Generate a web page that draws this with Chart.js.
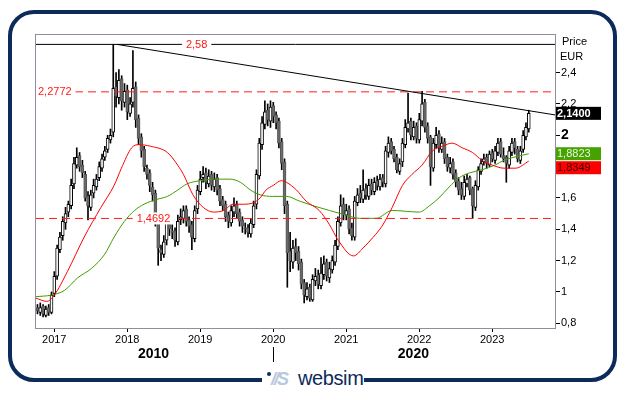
<!DOCTYPE html>
<html>
<head>
<meta charset="utf-8">
<script src="https://cdn.jsdelivr.net/npm/chart.js@4.4.0/dist/chart.umd.min.js"></script>
<style>
  html, body { margin: 0; padding: 0; background: #fff; }
  #wrap { position: relative; width: 629px; height: 395px; overflow: hidden; }
  #frame {
    position: absolute; left: 8px; top: 10px; width: 601px; height: 364px;
    border: 4px solid #0c2b5b; border-radius: 26px;
  }
  #chart { position: absolute; left: 0; top: 0; }
  #logo {
    position: absolute; left: 262px; top: 367px; width: 102px; height: 26px;
    background: #fff; font-family: "Liberation Sans", Arial, sans-serif;
  }
  #logo .dot { position: absolute; left: 5px; top: 5px; width: 4px; height: 4px; border-radius: 2px; background: #0c2b5b; }
  #logo .mark { position: absolute; left: 9px; top: 2px; font-size: 18px; font-weight: bold; font-style: italic; color: #b9c8dc; letter-spacing: -2px; }
  #logo .name { position: absolute; left: 36px; top: 0px; font-size: 20px; color: #0c2b5b; letter-spacing: -0.4px; }
</style>
</head>
<body>
<div id="wrap">
  <div id="frame"></div>
  <canvas id="chart" width="629" height="395"></canvas>
  <div id="logo"><span class="dot"></span><span class="mark">//S</span><span class="name">websim</span></div>
</div>
<script>
// two-week candles, first one early October 2016
const candleStart = 2016.77;
const candleStep = 1 / 26;

const opens = [
  0.90, 0.87, 0.91, 0.85, 0.90, 0.87, 0.99, 1.10, 1.27, 1.36,
  1.44, 1.51, 1.55, 1.69, 1.81, 1.87, 1.81, 1.75, 1.61, 1.54,
  1.63, 1.67, 1.73, 1.79, 1.86, 1.91, 1.97, 2.02, 2.31, 2.24,
  2.36, 2.21, 2.29, 2.14, 2.21, 2.31, 2.11, 1.99, 1.91, 1.79,
  1.76, 1.67, 1.63, 1.46, 1.27, 1.24, 1.33, 1.46, 1.39, 1.39,
  1.32, 1.46, 1.47, 1.53, 1.46, 1.43, 1.34, 1.53, 1.64, 1.73,
  1.76, 1.69, 1.75, 1.67, 1.73, 1.66, 1.59, 1.56, 1.49, 1.44,
  1.51, 1.56, 1.51, 1.46, 1.41, 1.41, 1.37, 1.43, 1.56, 1.74,
  1.94, 2.07, 2.16, 2.09, 2.19, 2.13, 2.09, 1.96, 1.83, 1.56,
  1.26, 1.19, 1.29, 1.26, 1.19, 1.06, 0.97, 1.03, 0.95, 1.07,
  1.11, 1.04, 1.11, 1.19, 1.09, 1.14, 1.19, 1.29, 1.44, 1.56,
  1.49, 1.53, 1.41, 1.35, 1.57, 1.63, 1.59, 1.66, 1.61, 1.69,
  1.64, 1.71, 1.67, 1.73, 1.69, 1.89, 1.96, 1.91, 1.86, 1.77,
  1.83, 1.94, 2.04, 2.09, 1.99, 2.06, 1.97, 2.09, 2.21, 2.06,
  1.99, 1.79, 1.94, 2.01, 1.91, 1.96, 1.86, 1.79, 1.83, 1.76,
  1.71, 1.66, 1.61, 1.69, 1.73, 1.66, 1.54, 1.67, 1.77, 1.83,
  1.86, 1.81, 1.89, 1.84, 1.89, 1.96, 1.87, 1.86, 1.81, 1.89,
  1.96, 1.91, 1.84, 1.91, 1.99, 2.04
];
const highs = [
  0.92, 0.93, 0.92, 0.91, 0.92, 1.00, 1.13, 1.30, 1.38, 1.48,
  1.54, 1.58, 1.72, 1.86, 1.92, 1.89, 1.84, 1.77, 1.64, 1.65,
  1.72, 1.75, 1.83, 1.88, 1.93, 2.00, 2.04, 2.58, 2.40, 2.42,
  2.38, 2.33, 2.32, 2.24, 2.54, 2.34, 2.13, 2.01, 1.93, 1.81,
  1.78, 1.70, 1.65, 1.48, 1.30, 1.36, 1.50, 1.49, 1.43, 1.41,
  1.49, 1.53, 1.55, 1.55, 1.48, 1.45, 1.55, 1.68, 1.77, 1.80,
  1.79, 1.78, 1.77, 1.76, 1.75, 1.68, 1.61, 1.58, 1.51, 1.55,
  1.60, 1.58, 1.53, 1.48, 1.44, 1.43, 1.47, 1.58, 1.78, 1.98,
  2.12, 2.22, 2.20, 2.22, 2.21, 2.15, 2.11, 1.98, 1.85, 1.58,
  1.38, 1.33, 1.34, 1.29, 1.21, 1.08, 1.06, 1.05, 1.11, 1.15,
  1.14, 1.22, 1.23, 1.21, 1.19, 1.23, 1.33, 1.48, 1.62, 1.60,
  1.56, 1.55, 1.44, 1.61, 1.66, 1.68, 1.78, 1.69, 1.72, 1.72,
  1.73, 1.74, 1.75, 1.75, 1.93, 1.99, 1.98, 1.93, 1.88, 1.85,
  1.98, 2.10, 2.27, 2.11, 2.09, 2.08, 2.14, 2.28, 2.23, 2.08,
  2.00, 1.98, 2.05, 2.03, 1.99, 1.98, 1.88, 1.86, 1.85, 1.78,
  1.73, 1.70, 1.74, 1.75, 1.74, 1.67, 1.71, 1.80, 1.85, 1.88,
  1.88, 1.90, 1.91, 1.93, 1.98, 1.98, 1.92, 1.87, 1.93, 1.98,
  1.98, 1.93, 1.93, 2.03, 2.08, 2.16
];
const lows = [
  0.86, 0.85, 0.84, 0.84, 0.85, 0.86, 0.97, 1.08, 1.25, 1.33,
  1.40, 1.48, 1.53, 1.66, 1.79, 1.77, 1.73, 1.58, 1.46, 1.52,
  1.60, 1.65, 1.71, 1.77, 1.84, 1.89, 1.95, 1.99, 2.18, 2.20,
  2.16, 2.18, 2.10, 2.12, 2.18, 2.05, 1.94, 1.86, 1.77, 1.72,
  1.64, 1.58, 1.42, 1.17, 1.20, 1.22, 1.30, 1.36, 1.34, 1.29,
  1.30, 1.43, 1.44, 1.42, 1.38, 1.27, 1.32, 1.50, 1.62, 1.70,
  1.66, 1.67, 1.65, 1.64, 1.62, 1.55, 1.52, 1.45, 1.41, 1.42,
  1.48, 1.47, 1.42, 1.38, 1.37, 1.35, 1.35, 1.41, 1.53, 1.72,
  1.91, 2.04, 2.06, 2.05, 2.08, 2.04, 1.92, 1.78, 1.50, 1.03,
  1.13, 1.15, 1.20, 1.14, 1.02, 0.93, 0.95, 0.94, 0.94, 1.04,
  1.02, 1.02, 1.08, 1.07, 1.06, 1.12, 1.17, 1.27, 1.42, 1.46,
  1.46, 1.37, 1.33, 1.33, 1.55, 1.57, 1.57, 1.59, 1.59, 1.62,
  1.62, 1.65, 1.65, 1.67, 1.67, 1.86, 1.88, 1.83, 1.76, 1.75,
  1.80, 1.92, 2.02, 1.97, 1.97, 1.95, 1.95, 2.06, 2.02, 1.95,
  1.68, 1.77, 1.92, 1.89, 1.89, 1.82, 1.77, 1.76, 1.72, 1.67,
  1.62, 1.59, 1.59, 1.67, 1.62, 1.47, 1.52, 1.65, 1.75, 1.81,
  1.79, 1.80, 1.83, 1.82, 1.87, 1.86, 1.83, 1.70, 1.79, 1.87,
  1.88, 1.83, 1.82, 1.89, 1.97, 2.02
];
const closes = [
  0.88, 0.90, 0.86, 0.89, 0.87, 0.98, 1.10, 1.28, 1.35, 1.45,
  1.50, 1.56, 1.68, 1.82, 1.86, 1.80, 1.76, 1.60, 1.55, 1.62,
  1.68, 1.72, 1.80, 1.85, 1.90, 1.98, 2.00, 2.30, 2.25, 2.35,
  2.22, 2.28, 2.15, 2.20, 2.30, 2.10, 1.98, 1.90, 1.80, 1.75,
  1.68, 1.62, 1.45, 1.28, 1.25, 1.32, 1.45, 1.40, 1.38, 1.33,
  1.45, 1.48, 1.52, 1.45, 1.42, 1.35, 1.52, 1.65, 1.72, 1.75,
  1.70, 1.74, 1.68, 1.72, 1.65, 1.58, 1.55, 1.48, 1.45, 1.52,
  1.55, 1.50, 1.45, 1.42, 1.40, 1.38, 1.44, 1.55, 1.75, 1.95,
  2.08, 2.15, 2.10, 2.18, 2.12, 2.08, 1.95, 1.82, 1.55, 1.25,
  1.20, 1.28, 1.25, 1.18, 1.05, 0.98, 1.02, 0.96, 1.08, 1.10,
  1.05, 1.12, 1.18, 1.10, 1.15, 1.20, 1.30, 1.45, 1.55, 1.50,
  1.52, 1.40, 1.36, 1.58, 1.62, 1.60, 1.65, 1.62, 1.68, 1.65,
  1.70, 1.68, 1.72, 1.70, 1.90, 1.95, 1.90, 1.85, 1.78, 1.82,
  1.95, 2.05, 2.08, 2.00, 2.05, 1.98, 2.10, 2.20, 2.05, 1.98,
  1.80, 1.95, 2.00, 1.92, 1.95, 1.85, 1.80, 1.82, 1.75, 1.70,
  1.65, 1.62, 1.70, 1.72, 1.65, 1.55, 1.68, 1.78, 1.82, 1.85,
  1.82, 1.88, 1.85, 1.90, 1.95, 1.88, 1.85, 1.82, 1.90, 1.95,
  1.92, 1.85, 1.90, 2.00, 2.05, 2.14
];

// moving averages (red = short, green = long)
const redMaDates = [2016.75, 2016.90, 2017.00, 2017.18, 2017.41, 2017.64, 2017.82, 2017.92, 2018.06, 2018.16,
  2018.32, 2018.55, 2018.69, 2018.77, 2018.90, 2019.04, 2019.18, 2019.32, 2019.45, 2019.59,
  2019.73, 2019.82, 2019.90, 2020.00, 2020.11, 2020.18, 2020.32, 2020.45, 2020.63, 2020.77,
  2020.89, 2021.10, 2021.23, 2021.37, 2021.49, 2021.63, 2021.77, 2021.90, 2022.04, 2022.18,
  2022.32, 2022.45, 2022.59, 2022.73, 2022.86, 2023.00, 2023.16, 2023.32, 2023.50];
const redMa = [0.96, 0.94, 0.98, 1.13, 1.35, 1.54, 1.68, 1.79, 1.92, 1.94,
  1.93, 1.89, 1.81, 1.75, 1.62, 1.54, 1.51, 1.52, 1.56, 1.56,
  1.57, 1.60, 1.65, 1.68, 1.71, 1.70, 1.65, 1.58, 1.52, 1.43,
  1.33, 1.23, 1.28, 1.35, 1.42, 1.54, 1.68, 1.75, 1.81, 1.90,
  1.93, 1.95, 1.92, 1.89, 1.84, 1.81, 1.79, 1.79, 1.8349];
const greenMaDates = [2016.75, 2016.96, 2017.14, 2017.32, 2017.51, 2017.69, 2017.82, 2017.96, 2018.10, 2018.23,
  2018.40, 2018.55, 2018.69, 2018.82, 2019.00, 2019.23, 2019.41, 2019.55, 2019.69, 2019.82,
  2019.99, 2020.18, 2020.36, 2020.55, 2020.77, 2021.00, 2021.18, 2021.41, 2021.63, 2022.00,
  2022.14, 2022.27, 2022.41, 2022.55, 2022.69, 2022.86, 2023.04, 2023.16, 2023.50];
const greenMa = [0.97, 0.98, 1.01, 1.09, 1.15, 1.24, 1.35, 1.45, 1.52, 1.56,
  1.59, 1.61, 1.65, 1.69, 1.71, 1.72, 1.72, 1.70, 1.65, 1.62,
  1.61, 1.61, 1.58, 1.55, 1.52, 1.49, 1.47, 1.47, 1.52, 1.51,
  1.55, 1.60, 1.67, 1.73, 1.76, 1.78, 1.81, 1.84, 1.8823];

const yearTicks = [2017, 2018, 2019, 2020, 2021, 2022, 2023];
const priceTicks = [0.8, 1, 1.2, 1.4, 1.6, 1.8, 2, 2.2, 2.4];

const resistance = 2.58;
const upperLevel = 2.2772;
const lowerLevel = 1.4692;
const trendDates = [2017.86, 2023.86];
const trendValues = [2.58, 2.13];
const lastPrice = 2.14;
const greenLast = 1.8823;
const redLast = 1.8349;

const xMin = 2016.75;
const xMax = 2023.86;
const fontFamily = '"Liberation Sans", Arial, sans-serif';

function fmt(v, digits) {
  const s = digits ? v.toFixed(digits) : String(Math.round(v * 10000) / 10000);
  return s.replace('.', ',');
}

const candleDates = closes.map((c, i) => candleStart + i * candleStep);
const wickData = closes.map((c, i) => ({ x: candleDates[i], y: [lows[i], highs[i]] }));
const bodyData = closes.map((c, i) => ({ x: candleDates[i], y: [opens[i], closes[i]] }));
const bodyFill = closes.map((c, i) => c >= opens[i] ? '#ffffff' : '#6a6a6a');
const bodyLine = closes.map((c, i) => c >= opens[i] ? '#000000' : '#555555');

function levelLine(v) {
  return [{ x: xMin, y: v }, { x: xMax, y: v }];
}

// labels on the levels, badges, header and decade row
const decorations = {
  id: 'decorations',
  afterDatasetsDraw(chart) {
    const { ctx, chartArea: a, scales: { x, y } } = chart;
    ctx.save();
    ctx.font = '11px ' + fontFamily;
    ctx.textBaseline = 'middle';
    ctx.textAlign = 'left';
    const tag = (text, px, py, align) => {
      const w = ctx.measureText(text).width;
      const left = align === 'left' ? px : px - w / 2;
      ctx.fillStyle = '#ffffff';
      ctx.fillRect(left - 4, py - 6, w + 8, 12);
      ctx.fillStyle = '#ff1a1a';
      ctx.fillText(text, left, py + 0.5);
    };
    tag(fmt(resistance), x.getPixelForValue(2018.95), y.getPixelForValue(resistance), 'center');
    tag(fmt(upperLevel), a.left + 2, y.getPixelForValue(upperLevel), 'left');
    tag(fmt(lowerLevel), x.getPixelForValue(2018.36), y.getPixelForValue(lowerLevel), 'center');

    ctx.strokeStyle = '#8e8e9c';
    ctx.lineWidth = 1;
    ctx.strokeRect(Math.round(a.left) - 0.5, Math.round(a.top) - 0.5,
      Math.round(a.width) + 1, Math.round(a.height) + 1);
    ctx.restore();
  },
  afterDraw(chart) {
    const { ctx, chartArea: a, scales: { x, y } } = chart;
    ctx.save();
    ctx.textBaseline = 'middle';
    ctx.textAlign = 'left';
    ctx.fillStyle = '#000';
    ctx.font = '11px ' + fontFamily;
    ctx.fillText('Price', a.right + 7, 42);
    ctx.fillText('EUR', a.right + 5, 57);

    const badge = (text, top, bg, fg, bold) => {
      ctx.fillStyle = bg;
      ctx.fillRect(a.right + 1, top, 45, 13);
      ctx.fillStyle = fg;
      ctx.font = (bold ? 'bold ' : '') + '11px ' + fontFamily;
      ctx.fillText(text, a.right + 2, top + 7);
    };
    const tPrice = y.getPixelForValue(lastPrice) - 6.5;
    badge(fmt(lastPrice, 4), tPrice, '#000000', '#ffffff', true);
    const tGreen = y.getPixelForValue(greenLast) - 6.5;
    badge(fmt(greenLast, 4), tGreen, '#45a300', '#eef5e0', false);
    const tRed = Math.max(y.getPixelForValue(redLast) - 6.5, tGreen + 14);
    badge(fmt(redLast, 4), tRed, '#ff0000', '#3a0000', false);

    ctx.fillStyle = '#000';
    ctx.font = 'bold 14px ' + fontFamily;
    ctx.textAlign = 'center';
    ctx.fillText('2010', x.getPixelForValue(2018.36), 354);
    ctx.fillText('2020', x.getPixelForValue(2021.92), 354);
    const mx = Math.round(x.getPixelForValue(2020)) + 0.5;
    ctx.strokeStyle = '#000';
    ctx.lineWidth = 1;
    ctx.beginPath();
    ctx.moveTo(mx, 347);
    ctx.lineTo(mx, 362);
    ctx.stroke();
    ctx.restore();
  }
};

const chart = new Chart(document.getElementById('chart').getContext('2d'), {
  type: 'bar',
  data: {
    datasets: [
      { type: 'line', data: levelLine(resistance), borderColor: '#000', borderWidth: 1, pointRadius: 0, order: 0 },
      { type: 'line', data: trendDates.map((d, i) => ({ x: d, y: trendValues[i] })), borderColor: '#000', borderWidth: 1, pointRadius: 0, order: 0 },
      { type: 'line', data: levelLine(upperLevel), borderColor: '#ff1a1a', borderWidth: 1, borderDash: [8, 5], pointRadius: 0, order: 0 },
      { type: 'line', data: levelLine(lowerLevel), borderColor: '#ff1a1a', borderWidth: 1, borderDash: [8, 5], pointRadius: 0, order: 0 },
      { type: 'line', data: redMaDates.map((d, i) => ({ x: d, y: redMa[i] })), borderColor: '#ff0000', borderWidth: 1, pointRadius: 0, cubicInterpolationMode: 'monotone', order: 1 },
      { type: 'line', data: greenMaDates.map((d, i) => ({ x: d, y: greenMa[i] })), borderColor: '#3f9c00', borderWidth: 1, pointRadius: 0, cubicInterpolationMode: 'monotone', order: 1 },
      { data: bodyData, backgroundColor: bodyFill, borderColor: bodyLine, borderWidth: 1, borderSkipped: false, barThickness: 3, grouped: false, order: 2 },
      { data: wickData, backgroundColor: '#000', borderWidth: 0, barThickness: 1, grouped: false, order: 3 }
    ]
  },
  options: {
    responsive: false,
    animation: false,
    events: [],
    layout: { padding: { left: 36, top: 35, right: 0, bottom: 0 } },
    plugins: { legend: { display: false }, tooltip: { enabled: false } },
    scales: {
      x: {
        type: 'linear',
        min: xMin,
        max: xMax,
        offset: false,
        afterFit: s => { s.height = 67; },
        afterBuildTicks: s => { s.ticks = yearTicks.map(v => ({ value: v })); },
        grid: { drawOnChartArea: false, drawTicks: true, tickLength: 4, color: '#000', offset: false },
        border: { display: false },
        ticks: { padding: 1, color: '#000', font: { family: fontFamily, size: 11 }, maxRotation: 0, callback: v => String(v) }
      },
      y: {
        position: 'right',
        min: 0.77,
        max: 2.64,
        beginAtZero: false,
        afterFit: s => { s.width = 74; },
        afterBuildTicks: s => { s.ticks = priceTicks.map(v => ({ value: v })); },
        grid: { drawOnChartArea: false, drawTicks: true, tickLength: 5, color: '#000' },
        border: { display: false },
        ticks: {
          padding: 1,
          color: '#000',
          font: c => (c.tick && c.tick.value === 2) ? { family: fontFamily, size: 14, weight: 'bold' } : { family: fontFamily, size: 11 },
          callback: v => fmt(v)
        }
      }
    }
  },
  plugins: [decorations]
});
</script>
</body>
</html>
